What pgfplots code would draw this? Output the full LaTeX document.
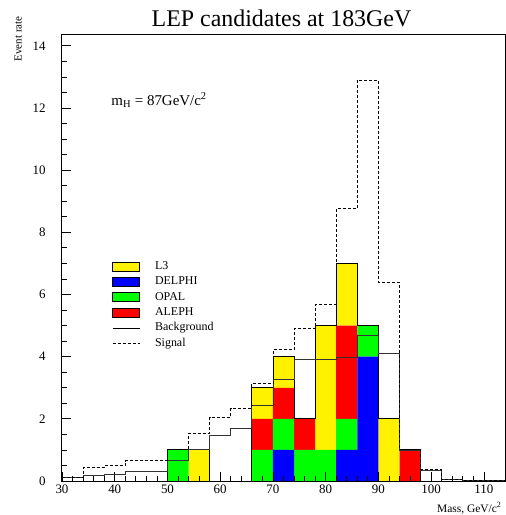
\documentclass[border=0pt]{standalone}
\usepackage{fontspec}
\setmainfont{Liberation Serif}
\usepackage{pgfplots}
\pgfplotsset{compat=1.18}

\pgfplotsset{
  frame/.style={width=443bp, height=446bp, scale only axis,
    xmin=30, xmax=114, ymin=0, ymax=14.35, enlargelimits=false, clip=false},
  boxleg/.style={legend image code/.code={\draw[##1,draw=black,line width=0.6bp] (0bp,-4.5bp) rectangle (27bp,4.5bp);}},
  lineleg/.style={legend image code/.code={\draw[##1] (0bp,0bp) -- (27bp,0bp);}},
}

\begin{document}
\begin{tikzpicture}
% stacked candidates, bin centres, 4 GeV bins
\begin{axis}[frame, hide axis, ybar stacked, bar width=4]
\addplot[fill=blue, draw=none] coordinates {(52,0) (56,0) (60,0) (64,0) (68,0) (72,1) (76,0) (80,0) (84,1) (88,4) (92,0) (96,0)}; % DELPHI
\addplot[fill=green, draw=none] coordinates {(52,1) (56,0) (60,0) (64,0) (68,1) (72,1) (76,1) (80,1) (84,1) (88,1) (92,0) (96,0)}; % OPAL
\addplot[fill=red, draw=none] coordinates {(52,0) (56,0) (60,0) (64,0) (68,1) (72,1) (76,1) (80,0) (84,3) (88,0) (92,0) (96,1)}; % ALEPH
\addplot[fill=yellow, draw=none] coordinates {(52,0) (56,1) (60,0) (64,0) (68,1) (72,1) (76,0) (80,4) (84,2) (88,0) (92,2) (96,0)}; % L3
\end{axis}

\begin{axis}[frame,
  axis line style={line width=1bp},
  tick align=inside, xtick pos=left, ytick pos=left,
  xtick={30,40,...,110}, ytick={0,2,...,14},
  minor x tick num=4, minor y tick num=3,
  major tick length=9bp, minor tick length=5bp,
  every tick/.style={black, line width=0.8bp},
  /pgf/number format/assume math mode=true,
  ticklabel style={font=\fontsize{13}{13}\selectfont},
  yticklabel style={xshift=-13bp},
  legend style={at={(0.113,0.499)}, anchor=north west, draw=none, fill=none,
    inner sep=0pt, font=\fontsize{12}{12}\selectfont,
    nodes={text height=8.6bp, text depth=2.8bp, inner sep=2bp, anchor=west},
    /tikz/every odd column/.style={column sep=13bp}},
  legend cell align=left,
]
\addlegendimage{boxleg, fill=yellow}
\addlegendimage{boxleg, fill=blue}
\addlegendimage{boxleg, fill=green}
\addlegendimage{boxleg, fill=red}
\addlegendimage{lineleg, black, line width=0.8bp}
\addlegendimage{lineleg, black, line width=0.8bp, dash pattern=on 3bp off 2bp}

% total of candidates (outline)
\addplot[forget plot, const plot mark left, black, line width=0.9bp] coordinates {
(50,0) (50,1) (54,1) (58,0) (62,0) (66,3) (70,4) (74,2) (78,5) (82,7) (86,5) (90,2) (94,1) (98,0)};

% background
\addplot[forget plot, const plot mark left, black!80, line width=0.9bp] coordinates {
(30,0.10) (34,0.17) (38,0.21) (42,0.30) (46,0.30) (50,0.65) (54,1.02) (58,1.48) (62,1.70)
(66,2.43) (70,3.28) (74,3.90) (78,3.92) (82,3.96) (86,4.68) (90,4.09) (94,0.98) (98,0.33)
(102,0.04) (106,0.02) (110,0.01) (114,0.01)};

% signal + background
\addplot[forget plot, const plot mark left, black, line width=0.9bp, dash pattern=on 3bp off 2bp] coordinates {
(30,0.11) (34,0.44) (38,0.49) (42,0.65) (46,0.65) (50,1.02) (54,1.53) (58,2.04) (62,2.32)
(66,3.15) (70,4.23) (74,4.91) (78,5.67) (82,8.77) (86,12.9) (90,6.40) (94,1.03) (98,0.37)
(102,0.05) (106,0.03) (110,0.02) (114,0.02)};

\legend{L3, DELPHI, OPAL, ALEPH, Background, Signal}

\node[anchor=base, font=\fontsize{24}{24}\selectfont] at ([xshift=-2bp,yshift=8bp]rel axis cs:0.5,1) {LEP candidates at 183GeV};
\node[rotate=90, anchor=east, font=\fontsize{11}{11}\selectfont] at ([xshift=-44bp,yshift=22bp]rel axis cs:0,1) {Event rate};
\node[anchor=base east, font=\fontsize{11.5}{11.5}\selectfont] at ([yshift=-31bp]rel axis cs:1,0) {Mass, GeV/c\textsuperscript{2}};
\node[anchor=base west, font=\fontsize{15}{15}\selectfont] at ([xshift=-5bp,yshift=-2bp]rel axis cs:0.115,0.8475) {m\textsubscript{H} = 87GeV/c\textsuperscript{2}};
\end{axis}

\pgfresetboundingbox
\path ([shift={(-62bp,-34bp)}]current axis.south west) rectangle ([shift={(1bp,35bp)}]current axis.north east);
\end{tikzpicture}
\end{document}
